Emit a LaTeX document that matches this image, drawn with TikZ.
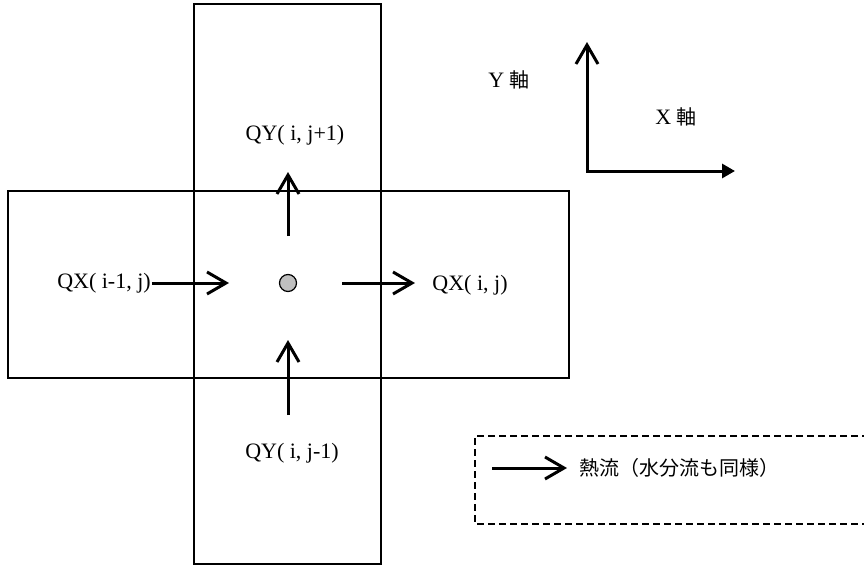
\documentclass[tikz,border=0pt]{standalone}
\usepackage{fontspec}
\setmainfont{Liberation Serif}
\newfontfamily\jpfont{Noto Sans CJK JP}
\usetikzlibrary{positioning,arrows.meta}

\begin{document}
\begin{tikzpicture}[
    x=1pt, y=-1pt,
    font=\fontsize{22}{26}\selectfont,
    cell/.style={draw, line width=1.5pt, inner sep=0pt},
    flow/.style={line width=3pt, -{Straight Barb[length=19pt,width=22pt]}},
    lbl/.style={inner sep=1pt},
    jp/.style={inner sep=1pt, font=\fontsize{20}{24}\selectfont\jpfont},
  ]
    \useasboundingbox (0,0) rectangle (864,570);

    % control volumes
    \node[cell, minimum width=187pt, minimum height=560pt] (col) at (287.5,284)   {};
    \node[cell, minimum width=561pt, minimum height=187pt] (row) at (288.5,284.5) {};
    \node[draw, circle, fill=black!25, line width=1.2pt, minimum size=17pt, inner sep=0pt] (pt) at (288,283) {};

    % fluxes
    \node[lbl] (qxw) at (104,283) {QX( i-1, j)};
    \node[lbl] (qxe) at (470,285) {QX( i, j)};
    \node[lbl] (qyn) at (295,135) {QY( i, j+1)};
    \node[lbl] (qys) at (292,453) {QY( i, j-1)};

    \coordinate (w1) at (229,283);
    \coordinate (e0) at (342,283);
    \coordinate (e1) at (415,283);
    \coordinate (n0) at (288,236);
    \coordinate (n1) at (288,172);
    \coordinate (s0) at (288,415);
    \coordinate (s1) at (288,340);

    \foreach \a/\b in {qxw.east/w1, e0/e1, n0/n1, s0/s1} \draw[flow] (\a) -- (\b);

    % axes
    \coordinate (o)    at (587,171);
    \coordinate (ytip) at (587,42);
    \coordinate (xtip) at (735,171);
    \draw[line width=3pt, {Straight Barb[length=19pt,width=22pt]}-{Triangle[length=13pt,width=14pt]}]
      (ytip) -- (o) -- (xtip);
    \node[lbl] (ylab) at (509,80)  {Y {\jpfont\fontsize{20}{24}\selectfont 軸}};
    \node[lbl] (xlab) at (676,117) {X {\jpfont\fontsize{20}{24}\selectfont 軸}};

    % legend
    \draw[line width=2pt, dash pattern=on 7pt off 4pt] (880,436) -- (475,436) -- (475,524) -- (880,524);
    \coordinate (k0) at (492,468);
    \node[jp, anchor=west, inner xsep=12pt] (key) at (567,468) {熱流（水分流も同様）};
    \draw[flow] (k0) -- (key.west);
\end{tikzpicture}
\end{document}
